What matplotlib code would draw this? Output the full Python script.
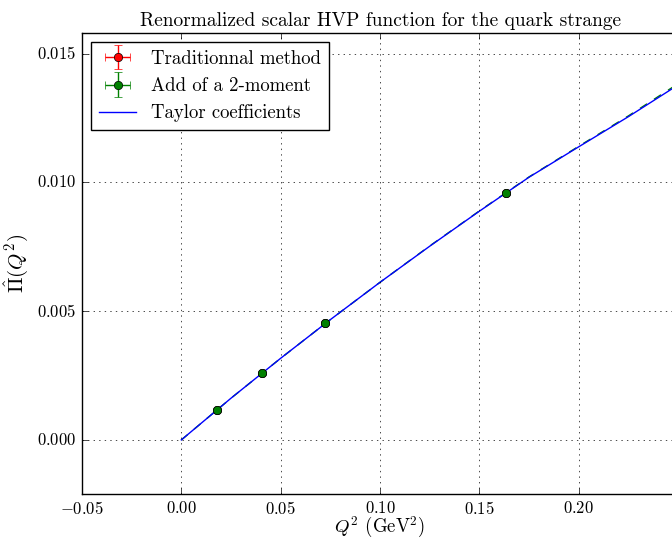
import numpy as np
import matplotlib
matplotlib.use("Agg")
import matplotlib.pyplot as plt
from matplotlib.legend_handler import HandlerErrorbar

plt.style.use("classic")
plt.rcParams["figure.facecolor"] = "white"
plt.rcParams["savefig.facecolor"] = "white"
plt.rcParams["font.family"] = "serif"
plt.rcParams["font.serif"] = ["cmr10", "DejaVu Serif"]
plt.rcParams["mathtext.fontset"] = "cm"
plt.rcParams["axes.formatter.use_mathtext"] = True

# lattice points (Q^2 in GeV^2, renormalized Pi)
q2_pts = [0.0179, 0.0406, 0.0723, 0.1636]
q2_err = [0.0001, 0.0001, 0.0002, 0.0002]
pi_trad = [0.00117, 0.00258, 0.00455, 0.00958]
err_trad = [0.00001, 0.00002, 0.00002, 0.00003]
pi_mom2 = [0.00117, 0.00258, 0.00455, 0.00958]
err_mom2 = [0.00001, 0.00001, 0.00002, 0.00002]

# curves
q2_curve = [0.0, 0.025, 0.05, 0.075, 0.10, 0.125, 0.15, 0.175, 0.20, 0.225, 0.25]
pi_taylor = [0.0, 0.00162, 0.00317, 0.00467, 0.00612, 0.00752, 0.00888,
             0.01020, 0.01138, 0.01255, 0.01378]
pi_fit2 = [0.0, 0.00162, 0.00317, 0.00467, 0.00612, 0.00753, 0.00889,
           0.01021, 0.01140, 0.01258, 0.01383]

fig = plt.figure(figsize=(6.72, 5.39), dpi=100)
ax = fig.add_axes([82 / 672, 45 / 539, 596 / 672, 461 / 539])

h1 = ax.errorbar(q2_pts, pi_trad, xerr=q2_err, yerr=err_trad, fmt="o",
                 color="red", mfc="red", mec="black", capsize=3,
                 label="Traditionnal method")
h2 = ax.errorbar(q2_pts, pi_mom2, xerr=q2_err, yerr=err_mom2, fmt="o",
                 color="green", mfc="green", mec="black", capsize=3,
                 label="Add of a 2-moment")
ax.plot(q2_curve, pi_fit2, "--", color="green")
h3, = ax.plot(q2_curve, pi_taylor, "-", color="blue", label="Taylor coefficients")

ax.set_xlim(-0.05, 0.25)
ax.set_ylim(-0.0021, 0.0158)
ax.set_xticks([-0.05, 0.0, 0.05, 0.10, 0.15, 0.20])
ax.set_yticks([0.0, 0.005, 0.010, 0.015])
ax.grid(True)

ax.set_title("Renormalized scalar HVP function for the quark strange", fontsize=14)
ax.set_xlabel(r"$Q^2$ (GeV$^2$)", fontsize=13.5, labelpad=-1)
ax.set_ylabel(r"$\hat{\Pi}(Q^2)$", fontsize=15)
ax.legend(handles=[h1, h2, h3], loc="upper left", numpoints=1, fontsize=13.5,
          handler_map={type(h1): HandlerErrorbar(xerr_size=0.65, yerr_size=0.65)})

fig.savefig("out.png", dpi=100)
